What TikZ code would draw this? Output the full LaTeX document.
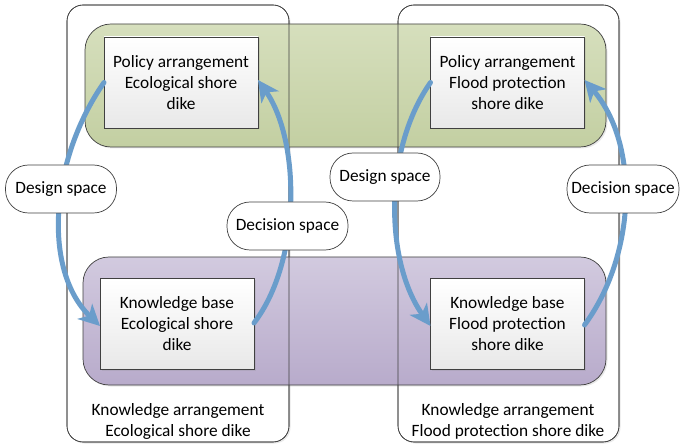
\documentclass[tikz,border=0pt]{standalone}
\usepackage{fontspec}
\setmainfont{Carlito}
\usetikzlibrary{arrows.meta,shadows}
\definecolor{greenT}{HTML}{D6DFBD}
\definecolor{greenB}{HTML}{C3CFA2}
\definecolor{purpleT}{HTML}{D2CADF}
\definecolor{purpleB}{HTML}{B8ABCB}
\definecolor{flowblue}{HTML}{6A9DCB}
\definecolor{edgegray}{HTML}{404040}
\begin{document}
\begin{tikzpicture}[x=1pt,y=-1pt,
  every node/.style={font=\fontsize{17.3}{21}\selectfont, inner sep=0pt, outer sep=0pt},
  softshadow/.style={drop shadow={opacity=0.18, shadow xshift=1.5pt, shadow yshift=-1.5pt}},
  outerbox/.style={rounded corners=16pt, minimum width=#1, minimum height=437pt},
  band/.style={draw=edgegray, line width=0.7pt, rounded corners=26pt, softshadow},
  greenband/.style={band, top color=greenT, bottom color=greenB},
  purpleband/.style={band, top color=purpleT, bottom color=purpleB},
  innerbox/.style={draw=edgegray, line width=0.7pt, top color=white, bottom color=black!9,
    minimum width=154pt, minimum height=91pt, align=center, softshadow},
  spacebox/.style={draw=edgegray, line width=0.7pt, fill=white, rounded corners=23pt,
    minimum height=48pt, align=center},
  flow/.style={draw=flowblue, line width=5pt},
  flowarrow/.style={flow, -{Stealth[length=21pt, width=21pt, inset=6pt]}},
  caption/.style={align=center}
]
\useasboundingbox (0,0) rectangle (680,446);

% outer boxes (background with shadow)
\node[outerbox=222pt, fill=white, draw=edgegray, line width=0.6pt, softshadow] (outerL) at (178,223.5) {};
\node[outerbox=221pt, fill=white, draw=edgegray, line width=0.6pt, softshadow] (outerR) at (508.5,223.5) {};

% bands
\node[greenband, minimum width=521pt, minimum height=123pt] (greenband) at (345.5,85.5) {};
\node[purpleband, minimum width=523pt, minimum height=128pt] (purpleband) at (344.5,321) {};

% outer box outlines over the bands
\node[outerbox=222pt, draw=edgegray, line width=0.6pt] (outerLline) at (178,223.5) {};
\node[outerbox=221pt, draw=edgegray, line width=0.6pt] (outerRline) at (508.5,223.5) {};

% inner boxes
\node[innerbox] (PL) at (181,82.5) {Policy arrangement\\Ecological shore\\dike};
\node[innerbox] (PR) at (507.5,82.5) {Policy arrangement\\Flood protection\\shore dike};
\node[innerbox] (KL) at (177,324) {Knowledge base\\Ecological shore\\dike};
\node[innerbox] (KR) at (507.5,324) {Knowledge base\\Flood protection\\shore dike};

% captions
\node[caption] (capL) at (178,421.5) {Knowledge arrangement\\Ecological shore dike};
\node[caption] (capR) at (508,421.5) {Knowledge arrangement\\Flood protection shore dike};

% flows
\draw[flowarrow, line cap=round] (PL.west) .. controls (50,160) and (42,270) .. ([yshift=-2pt]KL.west);
\draw[flowarrow, line cap=round] ([yshift=1pt]KL.east) .. controls (302,260) and (300,140) .. ([yshift=2.5pt]PL.east);
\draw[flowarrow, line cap=round] (PR.west) .. controls (383,150) and (385,262) .. ([yshift=-2pt]KR.west);
\draw[flowarrow, line cap=round] ([yshift=-1pt]KR.east) .. controls (636,255) and (640,145) .. ([yshift=2.5pt]PR.east);

% space labels
\node[spacebox, minimum width=111pt] (designL) at (61,189) {Design space};
\node[spacebox, minimum width=121pt] (decisionM) at (287.5,226) {Decision space};
\node[spacebox, minimum width=110pt] (designR) at (385,177) {Design space};
\node[spacebox, minimum width=112pt] (decisionR) at (623,189) {Decision space};
\end{tikzpicture}
\end{document}
